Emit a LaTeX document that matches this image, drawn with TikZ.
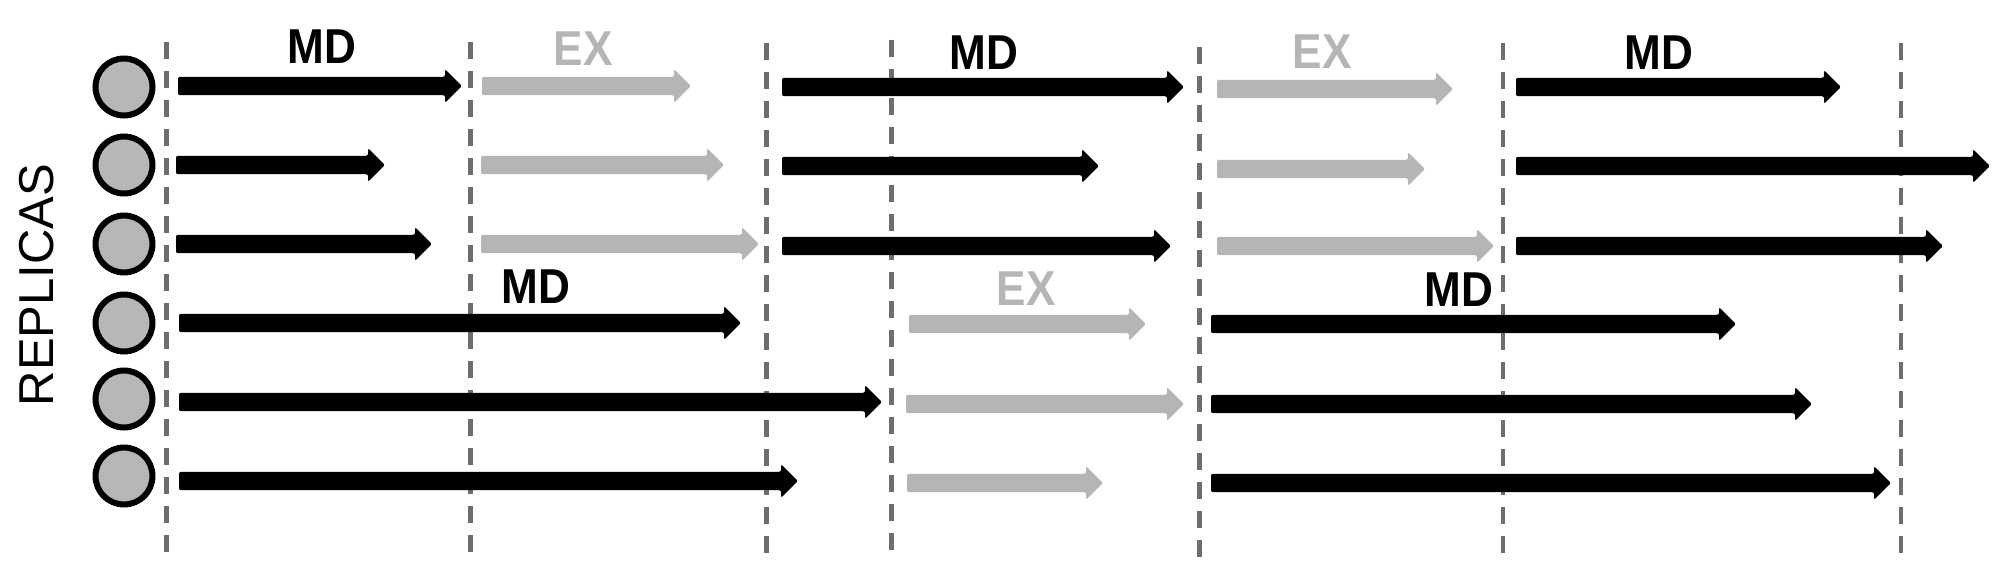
\documentclass[tikz,border=0pt]{standalone}
\usepackage{fontspec}
\setmainfont{Liberation Sans}
\definecolor{exgray}{HTML}{B5B5B5}
\definecolor{dashgray}{HTML}{6E6E6E}
\definecolor{repgray}{HTML}{B7B7B7}
\newcommand\tarrow[4]{\fill[#4, rounded corners=2pt] (#1,#3-9.2) -- (#2-17,#3-9.2) -- (#2-17,#3-16.8) -- (#2,#3) -- (#2-17,#3+16.8) -- (#2-17,#3+9.2) -- (#1,#3+9.2) -- cycle;}
\tikzset{
  sep/.style={draw=dashgray, line width=4.5pt, dash pattern=on 17pt off 12pt},
  replica/.style={circle, draw=black, line width=6pt, fill=repgray, minimum size=57pt, inner sep=0pt},
  lbl/.style={anchor=base, inner sep=0pt, xscale=0.9, font=\fontsize{49}{59}\selectfont\bfseries},
  mdlbl/.style={lbl, text=black},
  exlbl/.style={lbl, text=exgray}
}
\begin{document}
\begin{tikzpicture}[x=1pt,y=-1pt]
\useasboundingbox (0,0) rectangle (1995,567);
% separators
\draw[sep] (166.5,42) -- (166.5,554);
\draw[sep] (470.5,42) -- (470.5,554);
\draw[sep] (766.5,43) -- (766.5,555);
\draw[sep] (891.5,40) -- (891.5,554);
\draw[sep] (1199.5,47) -- (1199.5,562);
\draw[sep] (1503,43) -- (1503,556);
\draw[sep] (1901,43) -- (1901,555);
% replicas
\node[replica] (r1) at (124,87) {};
\node[replica] (r2) at (124,165) {};
\node[replica] (r3) at (124,244) {};
\node[replica] (r4) at (124,323) {};
\node[replica] (r5) at (124,399) {};
\node[replica] (r6) at (124,476) {};
\node[rotate=90, anchor=base, inner sep=0pt, font=\fontsize{49}{59}\selectfont] (rep) at (53,285) {REPLICAS};
% row 1
\tarrow{178}{462}{86}{black}
\tarrow{482}{691}{86}{exgray}
\tarrow{782}{1184}{87}{black}
\tarrow{1217}{1453}{89}{exgray}
\tarrow{1516}{1841}{87}{black}
% row 2
\tarrow{176}{385}{165}{black}
\tarrow{481}{724}{165}{exgray}
\tarrow{782}{1099}{166}{black}
\tarrow{1217}{1425}{169}{exgray}
\tarrow{1516}{1990}{166}{black}
% row 3
\tarrow{176}{432}{244}{black}
\tarrow{481}{759}{244}{exgray}
\tarrow{782}{1171}{246}{black}
\tarrow{1217}{1494}{246}{exgray}
\tarrow{1516}{1943}{246}{black}
% row 4
\tarrow{179}{741}{323}{black}
\tarrow{909}{1146}{324}{exgray}
\tarrow{1211}{1736}{324}{black}
% row 5
\tarrow{179}{882}{402}{black}
\tarrow{906}{1184}{404}{exgray}
\tarrow{1211}{1812}{404}{black}
% row 6
\tarrow{179}{798}{481}{black}
\tarrow{907}{1103}{483}{exgray}
\tarrow{1211}{1891}{483}{black}
% labels
\node[mdlbl] (md1) at (322,64) {MD};
\node[exlbl] (ex1) at (583,66) {EX};
\node[mdlbl] (md2) at (984,70) {MD};
\node[exlbl] (ex2) at (1322,69) {EX};
\node[mdlbl] (md3) at (1659,70) {MD};
\node[mdlbl] (md4) at (536,303) {MD};
\node[exlbl] (ex3) at (1026,305) {EX};
\node[mdlbl] (md5) at (1459,306) {MD};
\end{tikzpicture}
\end{document}
